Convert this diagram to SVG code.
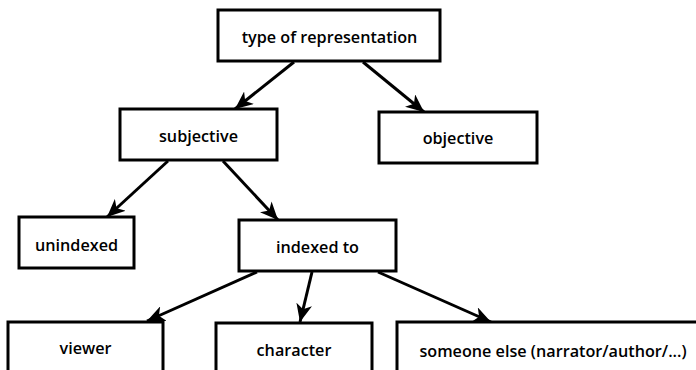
<svg xmlns="http://www.w3.org/2000/svg" width="696" height="370" viewBox="0 0 696 370">
<style>
.box{fill:#fff;stroke:#000;stroke-width:3}
.lbl{font-family:"Open Sans","Noto Sans",sans-serif;font-weight:600;font-size:16.2px;fill:#000;text-anchor:middle}
.edge{stroke:#000;stroke-width:3;fill:none;marker-end:url(#arr)}
</style>
<defs>
<marker id="arr" markerUnits="userSpaceOnUse" markerWidth="19" markerHeight="16" refX="18" refY="8" orient="auto">
<path d="M0,0 L18,8 L0,16 L5,8 z" fill="#000"/>
</marker>
</defs>
<rect width="696" height="370" fill="#fff"/>
<g id="connectors">
<line class="edge" x1="294" y1="62" x2="235" y2="109"/>
<line class="edge" x1="363" y1="62" x2="424" y2="112"/>
<line class="edge" x1="168" y1="161" x2="107" y2="217"/>
<line class="edge" x1="223" y1="161" x2="278" y2="220"/>
<line class="edge" x1="257" y1="272" x2="147" y2="321"/>
<line class="edge" x1="312" y1="272" x2="300" y2="322"/>
<line class="edge" x1="378" y1="272" x2="491" y2="322"/>
</g>
<g id="type-of-representation">
<rect class="box" x="218" y="10" width="222" height="51"/>
<text class="lbl" x="329.5" y="43">type of representation</text>
</g>
<g id="subjective">
<rect class="box" x="120" y="109" width="157" height="51"/>
<text class="lbl" x="198.5" y="142">subjective</text>
</g>
<g id="objective">
<rect class="box" x="379" y="112" width="158" height="51"/>
<text class="lbl" x="458" y="144">objective</text>
</g>
<g id="unindexed">
<rect class="box" x="19" y="217" width="115" height="51"/>
<text class="lbl" x="76.5" y="251">unindexed</text>
</g>
<g id="indexed-to">
<rect class="box" x="239" y="220" width="157" height="51"/>
<text class="lbl" x="317.5" y="253">indexed to</text>
</g>
<g id="viewer">
<rect class="box" x="8" y="322" width="155" height="60"/>
<text class="lbl" x="85.5" y="354">viewer</text>
</g>
<g id="character">
<rect class="box" x="216" y="323" width="156" height="60"/>
<text class="lbl" x="294" y="356">character</text>
</g>
<g id="someone-else">
<rect class="box" x="397" y="322" width="320" height="60"/>
<text class="lbl" x="553" y="357">someone else (narrator/author/...)</text>
</g>
</svg>
